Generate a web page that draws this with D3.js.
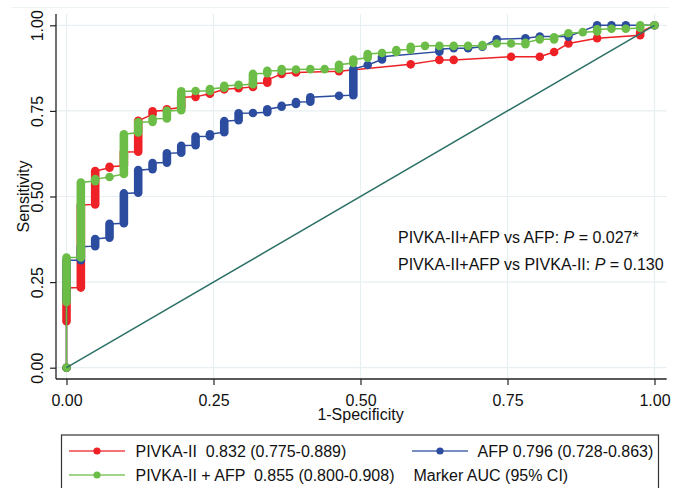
<!DOCTYPE html>
<html>
<head>
<meta charset="utf-8">
<script src="https://cdn.jsdelivr.net/npm/d3@7"></script>
<style>
  html, body { margin: 0; padding: 0; background: #fff; }
  svg { display: block; font-family: "Liberation Sans", Arial, sans-serif; }
  text { white-space: pre; }
</style>
</head>
<body>
<div id="chart"></div>
<script>
// ROC points: [false positives (of 41 controls), sensitivity low, sensitivity high]
const nControls = 41;

const pivka = [
  [0, 0, 0], [0, 0.136, 0.233], [1, 0.234, 0.475], [2, 0.477, 0.574], [3, 0.584, 0.587],
  [4, 0.59, 0.63], [5, 0.631, 0.721], [6, 0.74, 0.749], [7, 0.752, 0.755], [8, 0.76, 0.79],
  [9, 0.791, 0.791], [10, 0.80, 0.80], [11, 0.813, 0.813], [12, 0.816, 0.816], [13, 0.82, 0.83],
  [14, 0.832, 0.84], [15, 0.858, 0.858], [16, 0.862, 0.862], [19, 0.866, 0.866], [24, 0.886, 0.886],
  [26, 0.899, 0.899], [27, 0.899, 0.899], [31, 0.908, 0.908], [33, 0.908, 0.908], [34, 0.922, 0.922],
  [35, 0.947, 0.947], [37, 0.962, 0.962], [40, 0.971, 0.98], [41, 1, 1]
];

const afp = [
  [0, 0, 0], [0, 0.20, 0.314], [1, 0.314, 0.353], [2, 0.355, 0.376], [3, 0.38, 0.42],
  [4, 0.422, 0.509], [5, 0.511, 0.577], [6, 0.58, 0.598], [7, 0.599, 0.626], [8, 0.628, 0.648],
  [9, 0.65, 0.675], [10, 0.676, 0.682], [11, 0.688, 0.72], [12, 0.723, 0.743], [13, 0.744, 0.744],
  [14, 0.746, 0.755], [15, 0.762, 0.765], [16, 0.77, 0.776], [17, 0.777, 0.79], [19, 0.794, 0.794],
  [20, 0.796, 0.872], [21, 0.884, 0.884], [22, 0.90, 0.908], [26, 0.923, 0.93], [27, 0.933, 0.933],
  [28, 0.933, 0.933], [29, 0.9375, 0.9375], [30, 0.959, 0.959], [32, 0.962, 0.962], [33, 0.967, 0.967],
  [35, 0.967, 0.967], [37, 1, 1], [38, 1, 1], [39, 1, 1], [41, 1, 1]
];

const combined = [
  [0, 0, 0], [0, 0.192, 0.322], [1, 0.322, 0.541], [2, 0.545, 0.551], [3, 0.557, 0.557],
  [4, 0.566, 0.682], [5, 0.687, 0.717], [6, 0.718, 0.727], [7, 0.728, 0.75], [8, 0.752, 0.807],
  [9, 0.808, 0.808], [10, 0.808, 0.814], [11, 0.818, 0.823], [12, 0.826, 0.826], [13, 0.828, 0.858],
  [14, 0.86, 0.867], [15, 0.867, 0.872], [16, 0.871, 0.871], [17, 0.872, 0.872], [18, 0.872, 0.872],
  [19, 0.873, 0.885], [20, 0.89, 0.90], [21, 0.905, 0.916], [22, 0.919, 0.919], [23, 0.922, 0.928],
  [24, 0.929, 0.937], [25, 0.94, 0.94], [26, 0.94, 0.94], [27, 0.94, 0.94], [28, 0.94, 0.94],
  [29, 0.94, 0.942], [30, 0.947, 0.947], [31, 0.947, 0.947], [32, 0.945, 0.949], [33, 0.959, 0.959],
  [34, 0.959, 0.965], [35, 0.977, 0.977], [36, 0.98, 0.98], [37, 0.982, 0.988], [38, 0.99, 0.99],
  [39, 0.99, 0.99], [40, 0.992, 1], [41, 1, 1]
];

const tickValues = [0, 0.25, 0.5, 0.75, 1];

const series = [
  { name: 'PIVKA-II', data: pivka, color: '#ee2126', label: 'PIVKA-II  0.832 (0.775-0.889)' },
  { name: 'AFP', data: afp, color: '#2c4d9f', label: 'AFP 0.796 (0.728-0.863)' },
  { name: 'PIVKA-II + AFP', data: combined, color: '#6cbd47', label: 'PIVKA-II + AFP  0.855 (0.800-0.908)' }
];

const width = 686, height = 488;
const frame = { left: 56, right: 666.7, top: 14, bottom: 379 };

const svg = d3.select('#chart').append('svg')
  .attr('width', width).attr('height', height);

svg.append('rect').attr('width', width).attr('height', height).attr('fill', '#fff');

// faint outer region line
svg.append('line')
  .attr('x1', 12).attr('x2', 669).attr('y1', 7.5).attr('y2', 7.5)
  .attr('stroke', '#edf2f4').attr('stroke-width', 1.2);

const x = d3.scaleLinear().domain([0, 1]).range([66.5, 654.5]);
const y = d3.scaleLinear().domain([0, 1]).range([367.7, 25.3]);
const fpr = (k) => k / nControls;

// grid
const grid = svg.append('g').attr('stroke', '#e7eff2').attr('stroke-width', 1.2);
grid.selectAll('line.v').data(tickValues).join('line')
  .attr('class', 'v')
  .attr('x1', (d) => x(d)).attr('x2', (d) => x(d))
  .attr('y1', frame.top).attr('y2', frame.bottom);
grid.selectAll('line.h').data(tickValues).join('line')
  .attr('class', 'h')
  .attr('x1', frame.left).attr('x2', frame.right)
  .attr('y1', (d) => y(d)).attr('y2', (d) => y(d));

// axes
const xAxis = svg.append('g')
  .attr('transform', `translate(0,${frame.bottom})`)
  .call(d3.axisBottom(x).tickValues(tickValues).tickFormat(d3.format('.2f')).tickSize(6).tickPadding(10));
const yAxis = svg.append('g')
  .attr('transform', `translate(${frame.left},0)`)
  .call(d3.axisLeft(y).tickValues(tickValues).tickFormat(d3.format('.2f')).tickSize(6));

[xAxis, yAxis].forEach((g) => {
  g.select('.domain').remove();
  g.selectAll('.tick line').attr('stroke', '#222').attr('stroke-width', 1.2);
  g.selectAll('text').attr('fill', '#111').style('font-size', '16px')
    .style('font-family', '"Liberation Sans", Arial, sans-serif');
});
yAxis.selectAll('.tick text')
  .attr('transform', 'rotate(-90)')
  .attr('text-anchor', 'middle')
  .attr('x', 0).attr('y', -13.3).attr('dy', 0);

svg.append('line')
  .attr('x1', frame.left).attr('x2', frame.left).attr('y1', frame.top).attr('y2', frame.bottom)
  .attr('stroke', '#222').attr('stroke-width', 1.3);
svg.append('line')
  .attr('x1', frame.left).attr('x2', frame.right).attr('y1', frame.bottom).attr('y2', frame.bottom)
  .attr('stroke', '#222').attr('stroke-width', 1.3);

svg.append('text')
  .attr('transform', `translate(28.5,${(y(0) + y(1)) / 2}) rotate(-90)`)
  .attr('text-anchor', 'middle').style('font-size', '16px').attr('fill', '#111')
  .text('Sensitivity');
svg.append('text')
  .attr('x', (x(0) + x(1)) / 2).attr('y', 420)
  .attr('text-anchor', 'middle').style('font-size', '16px').attr('fill', '#111')
  .text('1-Specificity');

// curves
const line = d3.line().x((d) => x(fpr(d[0]))).y((d) => y(d[1]));
series.forEach((s) => {
  const pts = [];
  s.data.forEach((d) => {
    pts.push([d[0], d[1]]);
    if (d[2] !== d[1]) pts.push([d[0], d[2]]);
  });
  const g = svg.append('g');
  g.append('path').datum(pts)
    .attr('d', line)
    .attr('fill', 'none').attr('stroke', s.color).attr('stroke-width', 1.5);
  g.selectAll('line.mk').data(s.data).join('line')
    .attr('class', 'mk')
    .attr('x1', (d) => x(fpr(d[0]))).attr('x2', (d) => x(fpr(d[0])))
    .attr('y1', (d) => y(d[1])).attr('y2', (d) => y(d[2]))
    .attr('stroke', s.color).attr('stroke-width', 8.6).attr('stroke-linecap', 'round');
});

// reference line
svg.append('line')
  .attr('x1', x(0)).attr('y1', y(0)).attr('x2', x(1)).attr('y2', y(1))
  .attr('stroke', '#2b7065').attr('stroke-width', 1.5);

// annotations
const notes = [
  { pre: 'PIVKA-II+AFP vs AFP: ', p: '0.027*', yb: 243 },
  { pre: 'PIVKA-II+AFP vs PIVKA-II: ', p: '0.130', yb: 270 }
];
notes.forEach((n) => {
  const t = svg.append('text').attr('x', 398).attr('y', n.yb)
    .style('font-size', '16px').attr('fill', '#111');
  t.append('tspan').text(n.pre);
  t.append('tspan').style('font-style', 'italic').text('P');
  t.append('tspan').text(' = ' + n.p);
});

// legend
const legend = svg.append('g');
legend.append('rect')
  .attr('x', 61.5).attr('y', 435).attr('width', 597).attr('height', 62)
  .attr('fill', '#fff').attr('stroke', '#333').attr('stroke-width', 1.2);

const legendPos = [
  { x0: 69, yc: 451, tx: 135.5 },
  { x0: 412, yc: 451, tx: 477.5 },
  { x0: 69, yc: 475, tx: 135.5 }
];
series.forEach((s, i) => {
  const p = legendPos[i];
  legend.append('line')
    .attr('x1', p.x0).attr('x2', p.x0 + 56).attr('y1', p.yc).attr('y2', p.yc)
    .attr('stroke', s.color).attr('stroke-width', 1.3).attr('stroke-opacity', 0.85);
  legend.append('circle')
    .attr('cx', p.x0 + 28).attr('cy', p.yc).attr('r', 3.6).attr('fill', s.color);
  legend.append('text')
    .attr('x', p.tx).attr('y', p.yc + 6)
    .style('font-size', '16px').attr('fill', '#111')
    .text(s.label);
});
legend.append('text')
  .attr('x', 413.5).attr('y', 481)
  .style('font-size', '16px').attr('fill', '#111')
  .text('Marker AUC (95% CI)');
</script>
</body>
</html>
